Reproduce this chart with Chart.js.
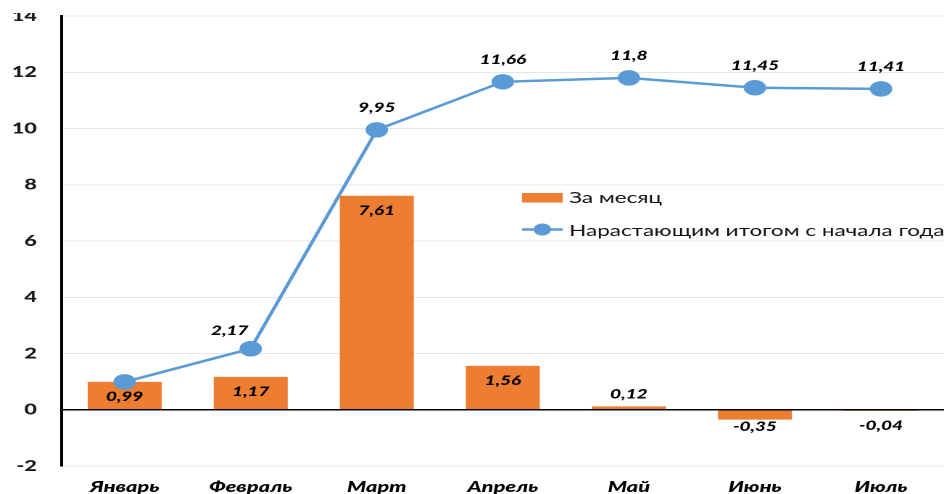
<!DOCTYPE html>
<html>
<head>
<meta charset="utf-8">
<script src="https://cdn.jsdelivr.net/npm/chart.js@4"></script>
<style>
html,body{margin:0;padding:0;background:#fff;overflow:hidden;width:944px;height:494px}
#wrap{position:absolute;left:0;top:0;width:651px;height:494px;transform-origin:0 0;transform:scaleX(1.4501)}
canvas{display:block}
</style>
</head>
<body>
<div id="wrap"><canvas id="c" width="651" height="494"></canvas></div>
<script>
const categories = ['Январь','Февраль','Март','Апрель','Май','Июнь','Июль'];
const monthlyValues = [0.99, 1.17, 7.61, 1.56, 0.12, -0.35, -0.04];
const cumulativeValues = [0.99, 2.17, 9.95, 11.66, 11.8, 11.45, 11.41];
const yTickValues = [-2, 0, 2, 4, 6, 8, 10, 12, 14];
const seriesNames = ['За месяц', 'Нарастающим итогом с начала года'];

const barColor = '#ED7D31';
const lineColor = '#5B9BD5';
const FAMILY = 'Lato, "Open Sans", "Noto Sans", sans-serif';
const fmt = v => String(v).replace('.', ',');

const whiteTop = {
  id: 'whiteTop',
  afterDraw(chart) {
    const ctx = chart.ctx;
    ctx.save();
    ctx.fillStyle = '#fff';
    ctx.fillRect(0, 0, chart.width, 13);
    ctx.restore();
  }
};

const valueLabels = {
  id: 'valueLabels',
  afterDatasetsDraw(chart) {
    const ctx = chart.ctx;
    ctx.save();
    ctx.font = 'italic 900 13px ' + FAMILY;
    ctx.fillStyle = '#000';
    ctx.textAlign = 'center';
    ctx.textBaseline = 'middle';
    const zero = chart.scales.y.getPixelForValue(0);
    chart.getDatasetMeta(1).data.forEach((el, i) => {
      const v = monthlyValues[i];
      const h = Math.abs(el.base - el.y);
      let y;
      if (v >= 0) y = h > 24 ? el.y + 15 : el.y - 12;
      else y = Math.max(el.y + 7, zero + 16);
      ctx.fillText(fmt(v), el.x, y);
    });
    chart.getDatasetMeta(0).data.forEach((el, i) => {
      if (i === 0) return;
      let x = el.x, y = el.y - 22;
      if (i === 1) { x = el.x - 14.5; y = el.y - 18; }
      ctx.fillText(fmt(cumulativeValues[i]), x, y);
    });
    ctx.restore();
  }
};

const insideLegend = {
  id: 'insideLegend',
  afterDraw(chart) {
    const ctx = chart.ctx;
    ctx.save();
    const x0 = 360, x1 = 388, tx = 392.5;
    ctx.fillStyle = barColor;
    ctx.fillRect(x0, 193, x1 - x0, 9.5);
    ctx.strokeStyle = lineColor;
    ctx.lineWidth = 2.5;
    ctx.beginPath(); ctx.moveTo(x0, 229.5); ctx.lineTo(x1, 229.5); ctx.stroke();
    ctx.fillStyle = lineColor;
    ctx.beginPath(); ctx.arc((x0 + x1) / 2, 229.5, 6, 0, Math.PI * 2); ctx.fill();
    ctx.fillStyle = '#111';
    ctx.font = '15.5px ' + FAMILY;
    ctx.textAlign = 'left';
    ctx.textBaseline = 'middle';
    ctx.fillText(seriesNames[0], tx, 198);
    ctx.fillText(seriesNames[1], tx, 231);
    ctx.restore();
  }
};

new Chart(document.getElementById('c'), {
  data: {
    labels: categories,
    datasets: [
      {
        type: 'line',
        label: seriesNames[1],
        data: cumulativeValues,
        borderColor: lineColor,
        backgroundColor: lineColor,
        pointBackgroundColor: lineColor,
        pointBorderColor: lineColor,
        pointRadius: 6.5,
        borderWidth: 2.5,
        tension: 0,
        order: 0
      },
      {
        type: 'bar',
        label: seriesNames[0],
        data: monthlyValues,
        backgroundColor: barColor,
        barPercentage: 0.587,
        categoryPercentage: 1,
        order: 1
      }
    ]
  },
  options: {
    responsive: false,
    devicePixelRatio: 2,
    animation: false,
    layout: { autoPadding: false, padding: { top: 16, right: 0, left: 0, bottom: 0 } },
    plugins: { legend: { display: false }, tooltip: { enabled: false } },
    scales: {
      x: {
        grid: { display: false, drawTicks: false },
        border: { display: false },
        ticks: {
          font: { family: FAMILY, size: 15, weight: '900', style: 'italic' },
          color: '#000', padding: 12, maxRotation: 0, autoSkip: false
        },
        afterFit(s) { s.height = 28; s.paddingLeft = 0; s.paddingRight = 0; }
      },
      y: {
        min: -2, max: 14,
        afterBuildTicks(s) { s.ticks = yTickValues.map(v => ({ value: v })); },
        ticks: {
          font: { family: FAMILY, size: 15, weight: '900' },
          color: '#1a1a1a', padding: 17,
          callback: v => String(v)
        },
        grid: {
          drawTicks: false,
          color: c => (c.tick && c.tick.value === 0) ? '#000' : '#e6e6e6',
          lineWidth: c => (c.tick && c.tick.value === 0) ? 1.5 : 1
        },
        border: { display: true, color: '#000', width: 2 },
        afterFit(s) { s.width = 42.5; s.paddingTop = 0; s.paddingBottom = 0; }
      }
    }
  },
  plugins: [valueLabels, insideLegend, whiteTop]
});
</script>
</body>
</html>
